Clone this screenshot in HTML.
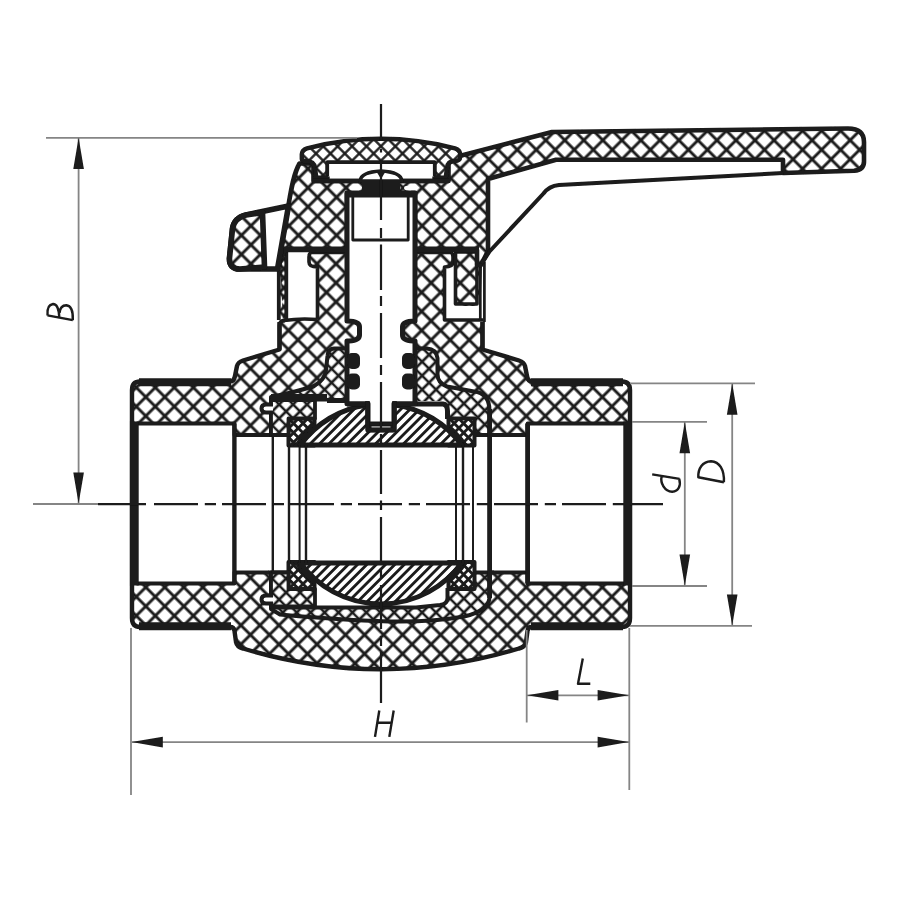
<!DOCTYPE html>
<html><head><meta charset="utf-8"><title>Ball valve section</title>
<style>
html,body{margin:0;padding:0;background:#fff;}
body{width:900px;height:900px;overflow:hidden;font-family:"Liberation Sans",sans-serif;}
svg{display:block}
</style></head><body>
<svg width="900" height="900" viewBox="0 0 900 900">
<defs>
<pattern id="hB" width="13.45" height="13.45" patternUnits="userSpaceOnUse" patternTransform="translate(145.8,397) rotate(45) translate(-6.725,-6.725)">
<path d="M0,6.725H13.45M6.725,0V13.45" stroke="#1a1a1a" stroke-width="2.9" fill="none"/></pattern>
<pattern id="hK" width="13.45" height="13.45" patternUnits="userSpaceOnUse" patternTransform="translate(308,206.8) rotate(45) translate(-6.725,-6.725)">
<path d="M0,6.725H13.45M6.725,0V13.45" stroke="#1a1a1a" stroke-width="2.9" fill="none"/></pattern>
<pattern id="hH" width="13.55" height="13.55" patternUnits="userSpaceOnUse" patternTransform="translate(583.3,144.6) rotate(45) translate(-6.775,-6.775)">
<path d="M0,6.775H13.55M6.775,0V13.55" stroke="#1a1a1a" stroke-width="2.6" fill="none"/></pattern>
<clipPath id="cL"><rect x="0" y="0" width="520" height="900"/></clipPath>
<clipPath id="cR"><rect x="520" y="0" width="380" height="900"/></clipPath>
<pattern id="hC" width="10.2" height="10.2" patternUnits="userSpaceOnUse" patternTransform="translate(380.9,146.3) rotate(45) translate(-5.1,-5.1)">
<path d="M0,5.1H10.2M5.1,0V10.2" stroke="#1a1a1a" stroke-width="2.3" fill="none"/></pattern>
<pattern id="hM" width="9.85" height="9.85" patternUnits="userSpaceOnUse" patternTransform="translate(429.05,368.7) rotate(45) translate(-4.925,-4.925)">
<path d="M0,4.925H9.85M4.925,0V9.85" stroke="#1a1a1a" stroke-width="2.7" fill="none"/></pattern>
<pattern id="hM2" width="9.85" height="9.85" patternUnits="userSpaceOnUse" patternTransform="translate(286.1,411.4) rotate(45) translate(-4.925,-4.925)">
<path d="M0,4.925H9.85M4.925,0V9.85" stroke="#1a1a1a" stroke-width="2.7" fill="none"/></pattern>
<pattern id="hS" width="6.68" height="6.68" patternUnits="userSpaceOnUse" patternTransform="translate(298.3,428.1) rotate(45) translate(-3.34,-3.34)">
<path d="M0,3.34H6.68M3.34,0V6.68" stroke="#1a1a1a" stroke-width="2.8" fill="none"/></pattern>
<pattern id="hL" width="6.6" height="6.6" patternUnits="userSpaceOnUse" patternTransform="translate(405.6,441.8) rotate(-45) translate(-3.3,-3.3)">
<path d="M0,3.3H6.6" stroke="#1a1a1a" stroke-width="2.8" fill="none"/></pattern>
<filter id="soft" x="0" y="0" width="900" height="900" filterUnits="userSpaceOnUse"><feGaussianBlur stdDeviation="0.5"/></filter>
</defs>
<rect width="900" height="900" fill="#fff"/>
<g filter="url(#soft)" stroke="#1a1a1a" stroke-linejoin="round" stroke-linecap="butt" fill="none">
<path d="M132,390 Q132,381.5 140,381.5 H230 Q234,381.5 235,376 L237,366 Q238,362 243,360.5 L279.5,349.5 V252 H482.5 V349.5 L519,360.5 Q524,362 525,366 L527,376 Q528,381.5 532,381.5 H622 Q630,381.5 630,390 V618 Q630,627 622,627 H532 Q528,627 527.5,631 L526,642 Q525,647 519,648.5 Q381,690 243,648.5 Q237,647 236,642 L234.5,631 Q234,627 230,627 H140 Q132,627 132,618 Z" fill="#fff" stroke="none"/>
<path d="M132,390 Q132,381.5 140,381.5 H230 Q234,381.5 235,376 L237,366 Q238,362 243,360.5 L279.5,349.5 V252 H482.5 V349.5 L519,360.5 Q524,362 525,366 L527,376 Q528,381.5 532,381.5 H622 Q630,381.5 630,390 V618 Q630,627 622,627 H532 Q528,627 527.5,631 L526,642 Q525,647 519,648.5 Q381,690 243,648.5 Q237,647 236,642 L234.5,631 Q234,627 230,627 H140 Q132,627 132,618 Z" fill="url(#hB)" stroke-width="4.4" />
<path d="M139,382.3 H231 M531,382.3 H623 M139,626.3 H231 M531,626.3 H623" stroke-width="8" />
<path d="M136.5,423.5 H234.4 V435 H300 V572.5 H234.4 V583.5 H136.5 Z" fill="#fff" stroke-width="0" />
<path d="M625.5,423.5 H527.6 V435 H462 V572.5 H527.6 V583.5 H625.5 Z" fill="#fff" stroke-width="0" />
<path d="M136.5,423.5 H234.4 V435 H290 M136.5,583.5 H234.4 V572.5 H290" stroke-width="3.8" />
<path d="M134.3,421.6 V585.4" stroke-width="8.8" />
<path d="M625.5,423.5 H527.6 V435 H472 M625.5,583.5 H527.6 V572.5 H472" stroke-width="3.8" />
<path d="M627.7,421.6 V585.4" stroke-width="8.8" />
<path d="M234.4,423.5 V583.5" stroke-width="4.4" />
<path d="M527.6,423.5 V583.5" stroke-width="4.8" />
<path d="M347,348.5 H334 Q328,349 327.5,356 L326,370 Q325,380 314,386 Q296,392 271,397 V609 L280,614.5 C330,619 370,621.5 400,621.5 C430,621.5 450,619 464,616.5 Q488,611 489.5,598 V410 Q489,393 474,391.5 L447,386.5 Q437.5,383 437.5,374 V358 Q436,349 427,348.5 H415 Z" fill="#fff" stroke="none"/>
<path d="M347,348.5 H334 Q328,349 327.5,356 L326,370 Q325,380 314,386 Q296,392 271,397 V609 L280,614.5 C330,619 370,621.5 400,621.5 C430,621.5 450,619 464,616.5 Q488,611 489.5,598 V410 Q489,393 474,391.5 L447,386.5 Q437.5,383 437.5,374 V358 Q436,349 427,348.5 H415 Z" fill="url(#hM)" stroke-width="4.0" />
<path d="M315,401 H444 Q448.5,402 448.5,410 V598 Q448,603.5 440,604.5 L416,606.5 H315 Z" fill="#fff" stroke-width="0" />
<path d="M268.6,435 H300 V445 H462 V435 H492 V572.5 H462 V563 H300 V572.5 H268.6 Z" fill="#fff" stroke-width="0" />
<path d="M268,435 H290 M268,572.5 H290 M472,435 H494 M472,572.5 H494" stroke-width="3.8" />
<path d="M288.5,418.5 h26 v27 h-26 Z" fill="#fff" stroke="none"/>
<path d="M288.5,418.5 h26 v27 h-26 Z" fill="url(#hS)" stroke-width="4.0" />
<path d="M448.5,418.5 h26 v27 h-26 Z" fill="#fff" stroke="none"/>
<path d="M448.5,418.5 h26 v27 h-26 Z" fill="url(#hS)" stroke-width="4.0" />
<path d="M288.5,562 h26 v27 h-26 Z" fill="#fff" stroke="none"/>
<path d="M288.5,562 h26 v27 h-26 Z" fill="url(#hS)" stroke-width="4.0" />
<path d="M448.5,562 h26 v27 h-26 Z" fill="#fff" stroke="none"/>
<path d="M448.5,562 h26 v27 h-26 Z" fill="url(#hS)" stroke-width="4.0" />
<clipPath id="cS"><rect x="288.5" y="418.5" width="26" height="27"/><rect x="448.5" y="418.5" width="26" height="27"/><rect x="288.5" y="562" width="26" height="27"/><rect x="448.5" y="562" width="26" height="27"/></clipPath>
<circle cx="381" cy="504" r="103" stroke-width="4" clip-path="url(#cS)"/>
<path d="M271,400 H315 V418.5 H288.5 V435 H271 Z" fill="#fff" stroke="none"/>
<path d="M271,400 H315 V418.5 H288.5 V435 H271 Z" fill="url(#hM2)" stroke-width="3.8" />
<path d="M271,606.5 H315 V589 H288.5 V572.5 H271 Z" fill="#fff" stroke="none"/>
<path d="M271,606.5 H315 V589 H288.5 V572.5 H271 Z" fill="url(#hM2)" stroke-width="3.8" />
<path d="M273,404.5 H266 Q261.5,404.5 261.5,408.5 Q261.5,412.5 266,412.5 H273" fill="#fff" stroke-width="4" />
<path d="M273,595.5 H266 Q261.5,595.5 261.5,599.5 Q261.5,603.5 266,603.5 H273" fill="#fff" stroke-width="4" />
<path d="M271,397.8 H327" stroke-width="7.4" />
<path d="M327,400.5 H349" stroke-width="5" />
<path d="M347,404 H367.5 M394.5,404 H443 Q447.5,404.5 447.5,411 V419" stroke-width="5" />
<path d="M271,607.5 H416 L440,605 Q447.5,604 447.5,598 V588" stroke-width="4" />
<path d="M300.3,445 A100,100 0 0 1 367,405 H369 V430 H393 V405 H395 A100,100 0 0 1 461.7,445 Z" fill="#fff" stroke="none"/>
<path d="M300.3,445 A100,100 0 0 1 367,405 H369 V430 H393 V405 H395 A100,100 0 0 1 461.7,445 Z" fill="url(#hL)" stroke-width="5.0" />
<path d="M300.3,563 A100,100 0 0 0 461.7,563 Z" fill="#fff" stroke="none"/>
<path d="M300.3,563 A100,100 0 0 0 461.7,563 Z" fill="url(#hL)" stroke-width="5.0" />
<path d="M272.8,435 V572.5" stroke-width="2.4" />
<path d="M289,445 V563 M306,445 V563" stroke-width="2.4" />
<path d="M299.6,445 V563 M456,445 V563 M473,445 V563" stroke-width="2.0" />
<path d="M463,445 V563" stroke-width="2.4" />
<path d="M489.6,409 V598" stroke-width="4.8" />
<path d="M347,193 V321 Q359.5,321 359.5,327 V335 Q359.5,340.5 349,341 L347,341 V403.7 H368 V424 H394 V403.7 H415 V341 L413,341 Q402.5,340.5 402.5,335 V327 Q402.5,321 415,321 V193 Z" fill="#fff" stroke-width="5.0" />
<rect x="347" y="353" width="13" height="16" rx="5" fill="#1a1a1a" stroke="none"/>
<rect x="402" y="353" width="13" height="16" rx="5" fill="#1a1a1a" stroke="none"/>
<rect x="347" y="373.5" width="13" height="16" rx="5" fill="#1a1a1a" stroke="none"/>
<rect x="402" y="373.5" width="13" height="16" rx="5" fill="#1a1a1a" stroke="none"/>
<path d="M368,424 H394" stroke-width="2.2" />
<path d="M367.5,401 V430 H394.5 V401" stroke-width="4.5" />
<path d="M288,252 H311 Q309,252.5 309,256 V262 Q309,267 317.5,267 V319.5 Q300,318 283,320.5 L288,320 Z" fill="#fff" stroke-width="0" />
<path d="M474,306 H457 V252 H451 Q453,252.5 453,256 V262 Q453,267 444.5,267 V319.5 Q462,318 481,320.5 V306 Z" fill="#fff" stroke-width="0" />
<path d="M482.5,250 H487 V322 H480 Z" fill="#fff" stroke-width="0" />
<path d="M279.5,250 H275 V322 H283 Z" fill="#fff" stroke-width="0" />
<path d="M311,253 Q309,253.5 309,257 V262 Q309,267 317.5,267 V319.5 M284,320.5 Q300,318 317.5,319.5" stroke-width="3.6" />
<path d="M451,253 Q453,253.5 453,257 V262 Q453,267 444.5,267 V320 H483" stroke-width="3.6" />
<path d="M279.5,349.5 V326 Q279.5,320.5 285,320.5" stroke-width="4" />
<path d="M482.5,349.5 V322" stroke-width="4" />
<path d="M455.5,252 V304 H477 V252 Z" fill="#fff" stroke="none"/>
<path d="M455.5,252 V304 H477 V252 Z" fill="url(#hK)" stroke-width="3.6" />
<path d="M459,250 H473.5 V252 H459 Z" fill="#fff" stroke-width="0" />
<rect x="279" y="258" width="7" height="62" fill="url(#hK)" stroke="none"/>
<path d="M278.8,268 V320" stroke-width="3.8" />
<path d="M286.3,252 V320" stroke-width="3.8" />
<path d="M480.3,266 V320 M484.4,262 V322" stroke-width="2.7" />
<path d="M299.5,163.5 H313.5 V181 H448.5 V163 L461.5,155.5 L552,132 L848,128.5 Q864,128.5 864,142 V161.5 Q864,170 854,170.7 L783,173 V159.8 H556 L488,179 V251 L481,265 H477 V250 H415 V193 H347 V250 H284.5 L277.5,269 L288.4,205.5 C291,190 293.5,174 299.5,163.5 Z" fill="#fff" stroke="none"/>
<path d="M299.5,163.5 H313.5 V181 H448.5 V163 L461.5,155.5 L552,132 L848,128.5 Q864,128.5 864,142 V161.5 Q864,170 854,170.7 L783,173 V159.8 H556 L488,179 V251 L481,265 H477 V250 H415 V193 H347 V250 H284.5 L277.5,269 L288.4,205.5 C291,190 293.5,174 299.5,163.5 Z" fill="url(#hK)" stroke="none"/>
<path d="M299.5,163.5 H313.5 V181 H448.5 V163 L461.5,155.5 L552,132 L848,128.5 Q864,128.5 864,142 V161.5 Q864,170 854,170.7 L783,173 V159.8 H556 L488,179 V251 L481,265 H477 V250 H415 V193 H347 V250 H284.5 L277.5,269 L288.4,205.5 C291,190 293.5,174 299.5,163.5 Z" stroke-width="4.6"/>
<path d="M783,173 L559,185 Q549,186 543.5,193.5 L489.5,251.5 L481.5,264" stroke-width="4" />
<path d="M288.5,206 L246,215 Q234,218 232.5,229 L229.5,258 Q229,269 240,269 H277.5 Z" fill="#fff" stroke-width="5.6" />
<path d="M264.5,267 L262.5,212.5 L246,215 Q234,218 232.5,229 L229.5,258 Q229,269 240,269 Z" fill="#fff" stroke="none"/>
<path d="M264.5,267 L262.5,212.5 L246,215 Q234,218 232.5,229 L229.5,258 Q229,269 240,269 Z" fill="url(#hK)" stroke-width="5.6" />
<path d="M284,249 H348 M414,249 H479" stroke-width="5" />
<path d="M347,193 H415 V256 H347 Z" fill="#fff" stroke-width="0" />
<path d="M347,256 V193 H415 V256" stroke-width="5.0" />
<path d="M352.8,196 V240 H408.2 V196" stroke-width="2.8" />
<path d="M345,194.2 H417" stroke-width="6.6" />
<path d="M301.8,159 V154 Q302,150 307,148.3 Q381,129.3 455,148.3 Q460,150 460.2,154 V157 Q460,161 455,161 Q447.5,161 447,168 L445.5,179 H434.5 V162.5 H327.5 V179 H316.5 L315,168 Q314.5,161 305,161 Q301.8,161 301.8,159 Z" fill="#fff" stroke="none"/>
<path d="M301.8,159 V154 Q302,150 307,148.3 Q381,129.3 455,148.3 Q460,150 460.2,154 V157 Q460,161 455,161 Q447.5,161 447,168 L445.5,179 H434.5 V162.5 H327.5 V179 H316.5 L315,168 Q314.5,161 305,161 Q301.8,161 301.8,159 Z" fill="url(#hC)" stroke-width="4.4" />
<path d="M328,163 H434 V176.5 H328 Z" fill="#fff" stroke-width="0" />
<path d="M313.5,181 H448.5" stroke-width="4.5" />
<path d="M327.5,176.5 V162.5 H434.5 V176.5" stroke-width="3.2" />
<path d="M318,176.8 H327.5 M434.5,176.8 H444" stroke-width="2.6" />
<path d="M360,181 Q361,172 381,171 Q401,172 402,181 Z" fill="#fff" stroke-width="3.4"/>
<path d="M377,172.5 L381,179 L385,172.5 Z" fill="#1a1a1a" stroke="none"/>
<rect x="362" y="180" width="38" height="13.5" fill="#1a1a1a" stroke="none"/>
<rect x="349.5" y="186" width="11.5" height="4.2" rx="2.1" fill="#fff" stroke="none"/>
<rect x="404" y="186" width="9" height="4.2" rx="2.1" fill="#fff" stroke="none"/>
<path d="M46,137.8 H357" stroke="#858585" stroke-width="1.8"/>
<path d="M78.6,138 V503" stroke="#858585" stroke-width="1.8"/>
<path d="M33,504 H98" stroke="#858585" stroke-width="1.8"/>
<polygon points="78.6,137.8 73.3,169.0 83.89999999999999,169.0" fill="#1a1a1a" stroke="none"/>
<polygon points="78.6,503.6 73.3,472.40000000000003 83.89999999999999,472.40000000000003" fill="#1a1a1a" stroke="none"/>
<path d="M131,628 V795 M629.3,628 V790" stroke="#858585" stroke-width="1.8"/>
<path d="M132,742.1 H629" stroke="#858585" stroke-width="1.8"/>
<polygon points="131.6,742.1 162.79999999999998,736.8000000000001 162.79999999999998,747.4" fill="#1a1a1a" stroke="none"/>
<polygon points="628.8,742.1 597.5999999999999,736.8000000000001 597.5999999999999,747.4" fill="#1a1a1a" stroke="none"/>
<path d="M526.7,630 V722.5" stroke="#858585" stroke-width="1.8"/>
<path d="M527,695.3 H629" stroke="#858585" stroke-width="1.8"/>
<polygon points="527.2,695.3 558.4000000000001,690.0 558.4000000000001,700.5999999999999" fill="#1a1a1a" stroke="none"/>
<polygon points="628.8,695.3 597.5999999999999,690.0 597.5999999999999,700.5999999999999" fill="#1a1a1a" stroke="none"/>
<path d="M630,383.3 H755 M632,421.8 H707 M632,586 H707 M630,625.8 H752" stroke="#858585" stroke-width="1.8"/>
<path d="M684.8,422 V586 M732.2,384 V625.5" stroke="#858585" stroke-width="1.8"/>
<polygon points="684.8,422 679.5,453.2 690.0999999999999,453.2" fill="#1a1a1a" stroke="none"/>
<polygon points="684.8,585.8 679.5,554.5999999999999 690.0999999999999,554.5999999999999" fill="#1a1a1a" stroke="none"/>
<polygon points="732.2,383.5 726.9000000000001,414.7 737.5,414.7" fill="#1a1a1a" stroke="none"/>
<polygon points="732.2,625.6 726.9000000000001,594.4 737.5,594.4" fill="#1a1a1a" stroke="none"/>
<path d="M98,504.2 H146 M154,504.2 H198 M204.8,504.2 H216 M222,504.2 H266 M272.8,504.2 H284 M290,504.2 H334 M340.8,504.2 H352 M358,504.2 H402 M408.8,504.2 H420 M426,504.2 H470 M476.8,504.2 H488 M494,504.2 H538 M544.8,504.2 H556 M562,504.2 H606 M612.8,504.2 H624 M630,504.2 H663" stroke-width="2.2" />
<path d="M381,104 V141 M381,149 V152.5 M381,163 V170 M381,176 V220 M381,228 V238 M381,244.5 V290 M381,296 V306 M381,313 V358 M381,365 V375 M381,382 V428 M381,434 V444 M381,450 V494 M381,500.6 V510 M381,517 V561 M381,568 V578 M381,585 V629 M381,636 V646 M381,652 V703" stroke-width="2.2" />
<path d="M375,736.9 L379.3,710.5 M389.3,736.9 L393.7,710.5 M377.3,722.7 H391.6" stroke-width="2.4" stroke-linecap="butt" stroke-linejoin="round"/>
<path d="M582.8,658.5 L578,683.8 H590.3" stroke-width="2.4" stroke-linecap="butt" stroke-linejoin="round"/>
<path d="M652.2,474.4 L679.6,478.9 M661.7,476 C660,483 664.5,491.5 672.2,491.7 C679,491.7 681,485 679.2,478.8" stroke-width="2.4" stroke-linecap="butt" stroke-linejoin="round"/>
<path d="M723.9,482.2 L698.3,477.2 C698,468.5 702.5,461.5 711,461.2 C719.5,461.5 724.5,470 723.9,482.2" stroke-width="2.4" stroke-linecap="butt" stroke-linejoin="round"/>
<path d="M47.5,315.4 L72.8,320.1 M47.5,315.4 C47,309 49,304.5 53,304 C57.5,304 59,309.5 59.3,317.5 M59.5,313 C60,308 62.5,305.3 66.3,305.3 C71,305.8 73.2,311 72.8,320.1" stroke-width="2.4" stroke-linecap="butt" stroke-linejoin="round"/>
</g>
</svg>
</body></html>
